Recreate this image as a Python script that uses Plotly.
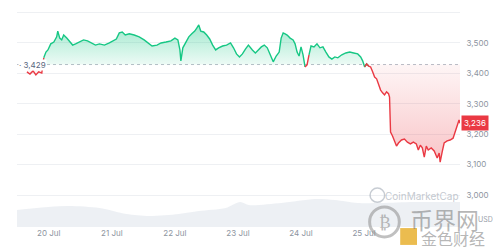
import plotly.graph_objects as go
import pandas as pd

# ---------------- data ----------------
BASE = 3429
LAST = 3236

times = [
    "2024-07-19 15:40", "2024-07-19 16:50", "2024-07-19 18:00", "2024-07-19 19:05", "2024-07-19 20:10",
    "2024-07-19 21:20", "2024-07-19 22:05", "2024-07-19 22:55", "2024-07-19 23:40", "2024-07-20 00:45",
    "2024-07-20 01:55", "2024-07-20 03:00", "2024-07-20 03:25", "2024-07-20 04:10", "2024-07-20 04:55",
    "2024-07-20 05:40", "2024-07-20 06:50", "2024-07-20 07:55", "2024-07-20 09:05", "2024-07-20 10:12",
    "2024-07-20 11:43", "2024-07-20 13:14", "2024-07-20 14:44", "2024-07-20 16:15", "2024-07-20 17:46",
    "2024-07-20 19:17", "2024-07-20 21:10", "2024-07-20 23:03", "2024-07-21 00:34", "2024-07-21 01:42",
    "2024-07-21 02:50", "2024-07-21 03:58", "2024-07-21 05:06", "2024-07-21 06:37", "2024-07-21 08:30",
    "2024-07-21 10:24", "2024-07-21 12:17", "2024-07-21 14:10", "2024-07-21 15:18", "2024-07-21 17:11",
    "2024-07-21 18:43", "2024-07-21 20:36", "2024-07-21 22:29", "2024-07-22 00:00", "2024-07-22 01:08",
    "2024-07-22 01:54", "2024-07-22 02:16", "2024-07-22 03:01", "2024-07-22 04:09", "2024-07-22 05:17",
    "2024-07-22 06:25", "2024-07-22 07:33", "2024-07-22 08:19", "2024-07-22 09:04", "2024-07-22 09:50",
    "2024-07-22 10:58", "2024-07-22 12:06", "2024-07-22 13:14", "2024-07-22 14:22", "2024-07-22 15:30",
    "2024-07-22 16:38", "2024-07-22 18:09", "2024-07-22 19:39", "2024-07-22 21:10", "2024-07-22 22:18",
    "2024-07-22 23:26", "2024-07-23 00:34", "2024-07-23 01:42", "2024-07-23 02:50", "2024-07-23 03:58",
    "2024-07-23 05:29", "2024-07-23 06:37", "2024-07-23 07:45", "2024-07-23 08:53", "2024-07-23 10:01",
    "2024-07-23 11:09", "2024-07-23 12:17", "2024-07-23 13:25", "2024-07-23 14:33", "2024-07-23 15:41",
    "2024-07-23 16:26", "2024-07-23 17:12", "2024-07-23 17:57", "2024-07-23 18:43", "2024-07-23 19:51",
    "2024-07-23 20:59", "2024-07-23 21:44", "2024-07-23 22:30", "2024-07-23 23:15", "2024-07-24 00:00",
    "2024-07-24 00:46", "2024-07-24 01:31", "2024-07-24 02:17", "2024-07-24 03:02", "2024-07-24 03:48",
    "2024-07-24 04:56", "2024-07-24 06:04", "2024-07-24 07:12", "2024-07-24 08:20", "2024-07-24 09:28",
    "2024-07-24 10:36", "2024-07-24 11:44", "2024-07-24 12:52", "2024-07-24 14:00", "2024-07-24 15:31",
    "2024-07-24 17:02", "2024-07-24 18:32", "2024-07-24 20:03", "2024-07-24 21:34", "2024-07-24 22:42",
    "2024-07-24 23:27", "2024-07-25 00:13", "2024-07-25 00:58", "2024-07-25 01:44", "2024-07-25 02:29",
    "2024-07-25 03:15", "2024-07-25 04:00", "2024-07-25 04:46", "2024-07-25 05:31", "2024-07-25 06:17",
    "2024-07-25 07:02", "2024-07-25 07:47", "2024-07-25 08:33", "2024-07-25 09:18", "2024-07-25 09:41",
    "2024-07-25 10:04", "2024-07-25 10:49", "2024-07-25 11:35", "2024-07-25 12:20", "2024-07-25 13:05",
    "2024-07-25 14:13", "2024-07-25 15:21", "2024-07-25 16:29", "2024-07-25 17:37", "2024-07-25 18:45",
    "2024-07-25 19:53", "2024-07-25 20:38", "2024-07-25 21:24", "2024-07-25 22:09", "2024-07-25 22:54",
    "2024-07-25 23:40", "2024-07-26 00:25", "2024-07-26 01:33", "2024-07-26 02:41", "2024-07-26 03:49",
    "2024-07-26 04:34", "2024-07-26 04:57", "2024-07-26 05:42", "2024-07-26 06:28", "2024-07-26 07:36",
    "2024-07-26 08:44", "2024-07-26 09:52", "2024-07-26 10:37", "2024-07-26 11:23", "2024-07-26 12:08",
    "2024-07-26 12:30",
]

prices = [
    3405, 3398, 3408, 3395, 3405,
    3401, 3451, 3470, 3477, 3497,
    3503, 3520, 3539, 3516, 3510,
    3526, 3516, 3503, 3493, 3497,
    3503, 3510, 3507, 3500, 3493,
    3497, 3493, 3500, 3507, 3513,
    3533, 3536, 3526, 3530, 3526,
    3520, 3510, 3497, 3490, 3493,
    3500, 3503, 3507, 3516, 3510,
    3477, 3441, 3484, 3503, 3520,
    3530, 3539, 3549, 3559, 3539,
    3536, 3526, 3513, 3493, 3477,
    3484, 3490, 3493, 3500, 3484,
    3464, 3454, 3464, 3480, 3493,
    3477, 3467, 3477, 3487, 3493,
    3484, 3461, 3438, 3457, 3470,
    3516, 3533, 3530, 3526, 3516,
    3510, 3497, 3470, 3457, 3487,
    3461, 3421, 3428, 3461, 3490,
    3487, 3497, 3484, 3487, 3470,
    3454, 3447, 3454, 3451, 3461,
    3467, 3470, 3467, 3464, 3454,
    3441, 3421, 3431, 3424, 3421,
    3405, 3388, 3382, 3362, 3345,
    3336, 3329, 3339, 3333, 3322,
    3207, 3194, 3174, 3161, 3171,
    3181, 3184, 3174, 3168, 3174,
    3168, 3148, 3164, 3155, 3125,
    3161, 3148, 3155, 3145, 3122,
    3138, 3108, 3141, 3171, 3178,
    3181, 3187, 3207, 3227, 3247,
    3236,
]

vol_times = [
    "2024-07-19 11:54", "2024-07-20 06:48", "2024-07-20 19:18", "2024-07-21 05:30", "2024-07-21 14:12",
    "2024-07-22 01:30", "2024-07-22 09:06", "2024-07-22 19:18", "2024-07-23 00:54", "2024-07-23 04:00",
    "2024-07-23 16:30", "2024-07-24 05:18", "2024-07-24 12:54", "2024-07-24 21:36", "2024-07-25 06:18",
    "2024-07-25 19:06", "2024-07-26 12:30",
]
volumes_b = [17, 21, 19, 13, 11, 13, 16, 19, 25, 22, 24, 28, 27, 24, 24, 25, 25]

y_ticks = [3000, 3100, 3200, 3300, 3400, 3500, 3600]
y_tick_text = ["3,000", "3,100", "3,200", "3,300", "3,400", "3,500", ""]
x_ticks = ["2024-07-20", "2024-07-21", "2024-07-22", "2024-07-23", "2024-07-24", "2024-07-25"]
x_tick_text = ["20 Jul", "21 Jul", "22 Jul", "23 Jul", "24 Jul", "25 Jul"]

# ---------------- styling ----------------
GREEN = "#16c784"
RED = "#ea3943"
FONT = "Inter"

n = len(prices)
above = [max(p, BASE) for p in prices]
below = [min(p, BASE) for p in prices]

green_line = []
red_line = []
for i, p in enumerate(prices):
    prev = prices[i - 1] if i > 0 else p
    green_line.append(p if (p >= BASE or prev >= BASE) else None)
    red_line.append(p if (p < BASE or prev < BASE) else None)

fig = go.Figure()

# volume area (secondary axis)
fig.add_trace(go.Scatter(
    x=vol_times, y=volumes_b, yaxis="y2", mode="lines",
    line=dict(width=0, shape="spline", smoothing=0.8),
    fill="tozeroy", fillcolor="rgba(222,227,235,0.55)",
    hoverinfo="skip", showlegend=False,
))

# green fill above baseline
fig.add_trace(go.Scatter(x=times, y=[BASE] * n, mode="lines", line=dict(width=0),
                         hoverinfo="skip", showlegend=False))
fig.add_trace(go.Scatter(
    x=times, y=above, mode="lines", line=dict(width=0), fill="tonexty",
    fillgradient=dict(type="vertical",
                      colorscale=[[0, "rgba(22,199,132,0.08)"], [1, "rgba(22,199,132,0.40)"]],
                      start=BASE, stop=3560),
    hoverinfo="skip", showlegend=False,
))
# red fill below baseline
fig.add_trace(go.Scatter(x=times, y=[BASE] * n, mode="lines", line=dict(width=0),
                         hoverinfo="skip", showlegend=False))
fig.add_trace(go.Scatter(
    x=times, y=below, mode="lines", line=dict(width=0), fill="tonexty",
    fillgradient=dict(type="vertical",
                      colorscale=[[0, "rgba(234,57,67,0.30)"], [1, "rgba(234,57,67,0.05)"]],
                      start=3100, stop=BASE),
    hoverinfo="skip", showlegend=False,
))

# price lines
fig.add_trace(go.Scatter(x=times, y=green_line, mode="lines",
                         line=dict(color=GREEN, width=1.4), connectgaps=False,
                         hoverinfo="skip", showlegend=False))
fig.add_trace(go.Scatter(x=times, y=red_line, mode="lines",
                         line=dict(color=RED, width=1.4), connectgaps=False,
                         hoverinfo="skip", showlegend=False))

# dotted baseline
fig.add_shape(type="line", xref="paper", x0=0, x1=1, yref="y", y0=BASE, y1=BASE,
              line=dict(color="#b8bec8", width=1, dash="dot"), layer="below")

annotations = [
    dict(xref="paper", x=0.002, y=BASE, yref="y", text="· " + f"{BASE:,}",
         showarrow=False, xanchor="left", yanchor="middle",
         font=dict(family=FONT, size=8, color="#58667e"), bgcolor="white", borderpad=0),
    dict(xref="paper", x=1.003, y=LAST, yref="y", text=f"{LAST:,}",
         showarrow=False, xanchor="left", yanchor="middle",
         font=dict(family=FONT, size=8, color="white"), bgcolor=RED, borderpad=2),
    dict(xref="paper", yref="paper", x=1.035, y=0.035, text="USD", showarrow=False,
         xanchor="left", yanchor="middle", font=dict(family=FONT, size=7, color="#9aa0aa")),
    dict(xref="paper", yref="paper", x=0.915, y=0.145, text="CoinMarketCap", showarrow=False,
         xanchor="center", yanchor="middle",
         font=dict(family=FONT, size=10, color="rgba(175,182,192,0.75)")),
    dict(xref="paper", yref="paper", x=0.966, y=0.035, text="币界网", showarrow=False,
         xanchor="center", yanchor="middle",
         font=dict(family="Noto Sans CJK SC", size=23, color="rgba(110,110,110,0.5)")),
    dict(xref="paper", yref="paper", x=0.985, y=-0.05, text="金色财经", showarrow=False,
         xanchor="center", yanchor="middle",
         font=dict(family="Noto Sans CJK SC", size=16, color="rgba(120,120,120,0.55)")),
    dict(xref="paper", yref="paper", x=0.83, y=0.025, text="₿", showarrow=False,
         xanchor="center", yanchor="middle",
         font=dict(family="DejaVu Sans", size=17, color="rgba(140,140,140,0.6)")),
]

shapes_extra = [
    dict(type="circle", xref="x domain", yref="paper", x0=0.796, x1=0.863, y0=-0.046, y1=0.093,
         line=dict(color="rgba(140,140,140,0.55)", width=3), layer="above"),
    dict(type="circle", xref="x domain", yref="paper", x0=0.797, x1=0.83, y0=0.115, y1=0.18,
         line=dict(color="rgba(175,182,192,0.7)", width=1.5), layer="above"),
    dict(type="rect", xref="x domain", yref="paper", x0=0.865, x1=0.903, y0=-0.083, y1=-0.005,
         line=dict(width=0), fillcolor="rgba(232,176,48,0.85)", layer="above"),
]
for s in shapes_extra:
    fig.add_shape(**s)

fig.update_layout(
    width=500, height=250,
    margin=dict(l=17, r=37, t=11, b=23),
    paper_bgcolor="white", plot_bgcolor="white",
    font=dict(family=FONT, size=8, color="#8d94a0"),
    showlegend=False,
    annotations=annotations,
    xaxis=dict(
        type="date", range=["2024-07-19 11:54", "2024-07-26 12:30"],
        tickvals=x_ticks, ticktext=x_tick_text, showgrid=False, zeroline=False,
        showline=False, ticks="", tickfont=dict(size=8, color="#8d94a0"),
    ),
    yaxis=dict(
        range=[2895, 3605], side="right", tickvals=y_ticks, ticktext=y_tick_text,
        showgrid=True, gridcolor="#eef0f3", gridwidth=1, zeroline=False, showline=False,
        ticks="outside", ticklen=4, tickcolor="rgba(0,0,0,0)",
        tickfont=dict(size=8, color="#8d94a0"),
    ),
    yaxis2=dict(range=[0, 216], overlaying="y", visible=False, showgrid=False),
)

fig.write_html("out.html")
